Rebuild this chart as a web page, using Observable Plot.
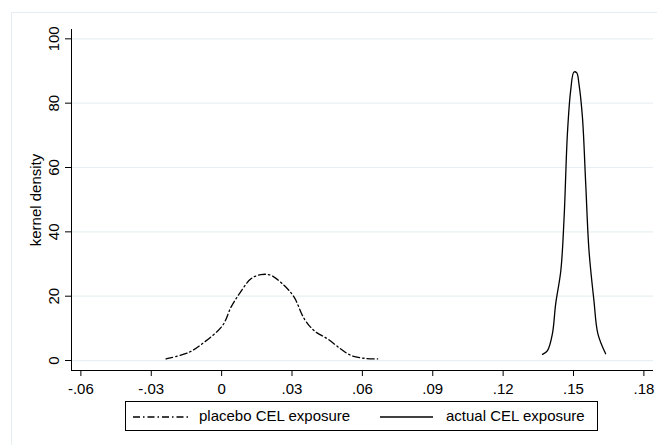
<!DOCTYPE html>
<html>
<head>
<meta charset="utf-8">
<script src="https://cdn.jsdelivr.net/npm/d3@7"></script>
<script src="https://cdn.jsdelivr.net/npm/@observablehq/plot@0.6"></script>
<style>
  html, body { margin: 0; padding: 0; background: #fff; }
  #wrap { position: relative; width: 657px; height: 445px; overflow: hidden; font-family: "Liberation Sans", Arial, sans-serif; }
  #frame { position: absolute; left: 11px; top: 12px; width: 700px; height: 500px; border-left: 1px solid #e6edf1; border-top: 1px solid #e6edf1; }
  #chart { position: absolute; left: 0; top: 0; }
  #legend { position: absolute; left: 125px; top: 401px; width: 471px; height: 28px; border: 1px solid #000; background: #fff; }
  #legend svg { position: absolute; left: 0; top: 0; }
  #legend span { position: absolute; top: 5px; font-size: 15px; color: #000; white-space: nowrap; }
</style>
</head>
<body>
<div id="wrap">
  <div id="frame"></div>
  <div id="chart"></div>
  <div id="legend">
    <svg width="471" height="28">
      <line x1="7" x2="63" y1="15" y2="15" stroke="#000" stroke-width="1.3" stroke-dasharray="7,3,1.5,3"></line>
      <line x1="254" x2="307" y1="15" y2="15" stroke="#000" stroke-width="1.3"></line>
    </svg>
    <span id="lab0" style="left:73px"></span>
    <span id="lab1" style="left:320px"></span>
  </div>
</div>
<script>
// Series names
const seriesNames = ["placebo CEL exposure", "actual CEL exposure"];

// placebo CEL exposure (kernel density estimate)
const placeboX = [-0.0237, -0.0138, -0.0074, 0.0004, 0.0040, 0.0075, 0.0125, 0.0167, 0.0210, 0.0267, 0.0309, 0.0352, 0.0394, 0.0452, 0.0508, 0.0551, 0.0608, 0.0665];
const placeboY = [0.5, 2.6, 5.7, 10.9, 16.6, 20.7, 25.4, 26.7, 26.5, 23.3, 19.7, 13.0, 9.3, 6.7, 3.6, 1.6, 0.7, 0.5];

// actual CEL exposure
const actualX = [0.1368, 0.1389, 0.1410, 0.1424, 0.1446, 0.1460, 0.1474, 0.1488, 0.1502, 0.1514, 0.1523, 0.1538, 0.1552, 0.1566, 0.1587, 0.1604, 0.1637];
const actualY = [1.9, 3.1, 8.3, 17.6, 28.0, 44.6, 70.5, 84.0, 89.7, 89.4, 86.1, 75.7, 55.0, 34.2, 18.7, 8.3, 2.1];

// Axes
const xTicks = [-0.06, -0.03, 0, 0.03, 0.06, 0.09, 0.12, 0.15, 0.18];
const yTicks = [0, 20, 40, 60, 80, 100];
const xDomain = [-0.064, 0.1841];
const yDomain = [-3.1, 102.9];
const yLabel = "kernel density";

const placebo = placeboX.map((x, i) => ({x, y: placeboY[i]}));
const actual = actualX.map((x, i) => ({x, y: actualY[i]}));

const fmt = d => d === 0 ? "0" : d.toFixed(2).replace("0.", ".");

const chart = Plot.plot({
  width: 657,
  height: 400,
  marginLeft: 71,
  marginRight: 4,
  marginTop: 29,
  marginBottom: 30,
  style: {fontFamily: "'Liberation Sans', Arial, sans-serif", fontSize: "15px", color: "#000", background: "transparent", overflow: "visible"},
  x: {domain: xDomain},
  y: {domain: yDomain},
  marks: [
    Plot.ruleY(yTicks, {stroke: "#e8eff2", strokeWidth: 1.2}),
    Plot.ruleX([xDomain[0]], {stroke: "#000", strokeWidth: 1}),
    Plot.ruleY([yDomain[0]], {stroke: "#000", strokeWidth: 1}),
    Plot.axisX({ticks: xTicks, tickSize: 6, tickPadding: 7, tickFormat: fmt, label: null, stroke: "#000", fill: "#000"}),
    Plot.axisY({ticks: yTicks, tickSize: 6, tickFormat: () => "", label: null, stroke: "#000"}),
    Plot.text(yTicks, {y: d => d, text: d => String(d), frameAnchor: "left", rotate: -90, dx: -17, textAnchor: "middle", lineAnchor: "middle", fill: "#000", fontSize: 15}),
    Plot.text([yLabel], {text: d => d, frameAnchor: "left", rotate: -90, dx: -35, textAnchor: "middle", lineAnchor: "middle", fill: "#000", fontSize: 15}),
    Plot.line(placebo, {x: "x", y: "y", stroke: "#000", strokeWidth: 1.3, strokeDasharray: "7,3,1.5,3", curve: "catmull-rom"}),
    Plot.line(actual, {x: "x", y: "y", stroke: "#000", strokeWidth: 1.3, curve: "catmull-rom"})
  ]
});
document.getElementById("chart").appendChild(chart);
document.getElementById("lab0").textContent = seriesNames[0];
document.getElementById("lab1").textContent = seriesNames[1];
</script>
</body>
</html>
